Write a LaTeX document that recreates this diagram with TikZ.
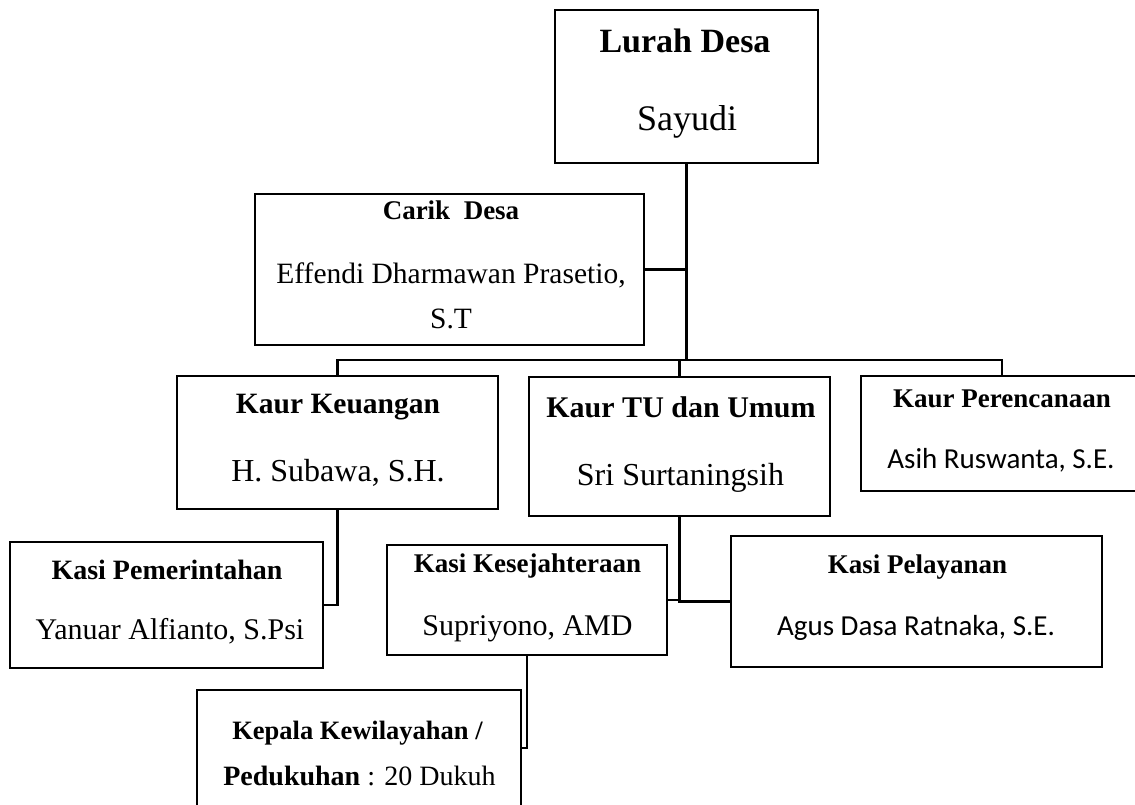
\documentclass[tikz,border=0pt]{standalone}
\usepackage{fontspec}
\setmainfont{Liberation Serif}
\newfontfamily\calibri{Carlito}
\newcommand{\ukuran}[1]{\fontsize{#1}{#1}\selectfont}

\begin{document}
\begin{tikzpicture}[x=1pt, y=-1pt, line width=2.2pt, draw=black]
  \tikzstyle{unit}=[draw, rectangle, inner sep=0pt, line width=2.2pt]
  \tikzstyle{title}=[anchor=base, inner sep=0pt, font=\bfseries]
  \tikzstyle{holder}=[anchor=base, inner sep=0pt]

  \clip (0,0) rectangle (1135,805);

  % boxes
  \node[unit, minimum width=263pt, minimum height=153pt] (lurah) at (686.5,86.5) {};
  \node[unit, minimum width=389pt, minimum height=151pt] (carik) at (449.5,269.5) {};
  \node[unit, minimum width=321pt, minimum height=133pt] (keu) at (337.5,442.5) {};
  \node[unit, minimum width=301pt, minimum height=139pt] (tu) at (679.5,446.5) {};
  \node[unit, minimum width=319pt, minimum height=115pt] (ren) at (1020.5,433.5) {};
  \node[unit, minimum width=313pt, minimum height=126pt] (pem) at (166.5,605) {};
  \node[unit, minimum width=280pt, minimum height=110pt] (kes) at (527,600) {};
  \node[unit, minimum width=371pt, minimum height=131pt] (pel) at (916.5,601.5) {};
  \node[unit, minimum width=324pt, minimum height=140pt] (kep) at (359,760) {};

  % texts
  \node[title] (lurah-t) at (685,53) {\ukuran{34}Lurah Desa};
  \node[holder] (lurah-n) at (687,131) {\ukuran{36}Sayudi};
  \node[title] (carik-t) at (451,220) {\ukuran{27}Carik\ \ Desa};
  \node[holder] (carik-n) at (451,283) {\ukuran{29.5}Effendi Dharmawan Prasetio,};
  \node[holder] (carik-g) at (451,328) {\ukuran{29.5}S.T};
  \node[title] (keu-t) at (338,413) {\ukuran{29.5}Kaur Keuangan};
  \node[holder] (keu-n) at (338,481) {\ukuran{32}H. Subawa, S.H.};
  \node[title] (tu-t) at (681,417) {\ukuran{30}Kaur TU dan Umum};
  \node[holder] (tu-n) at (680.5,485) {\ukuran{32}Sri Surtaningsih};
  \node[title] (ren-t) at (1002,407) {\ukuran{27}Kaur Perencanaan};
  \node[holder] (ren-n) at (1001,468) {\calibri\ukuran{29}Asih Ruswanta, S.E.};
  \node[title] (pem-t) at (167,579) {\ukuran{28}Kasi Pemerintahan};
  \node[holder] (pem-n) at (170,639) {\ukuran{30}Yanuar Alfianto, S.Psi};
  \node[title] (kes-t) at (527.5,572) {\ukuran{27}Kasi Kesejahteraan};
  \node[holder] (kes-n) at (527.5,635) {\ukuran{30}Supriyono, AMD};
  \node[title] (pel-t) at (917.5,573) {\ukuran{27}Kasi Pelayanan};
  \node[holder] (pel-n) at (916,635) {\calibri\ukuran{29}Agus Dasa Ratnaka, S.E.};
  \node[title] (kep-t) at (357.5,739) {\ukuran{26.5}Kepala Kewilayahan /};
  \node[holder] (kep-n) at (359.5,785) {\ukuran{28}\textbf{Pedukuhan}\ : 20 Dukuh};

  % lines
  \coordinate (bus) at (0,360);
  \draw (lurah.south) -- (lurah.south |- bus);
  \draw (carik.east) -- (carik.east -| lurah.south);
  \draw (keu.north) -- (keu.north |- bus) -- ([xshift=-18.5pt]ren.north |- bus) -- ([xshift=-18.5pt]ren.north);
  \draw (tu.north) -- (tu.north |- bus);
  \draw (keu.south) |- (pem.east);
  \draw (tu.south) |- (pel.west);
  \draw (kes.east) -- (kes.east -| tu.south);
  \draw (kes.south) |- ([yshift=12pt]kep.east);

\end{tikzpicture}
\end{document}
